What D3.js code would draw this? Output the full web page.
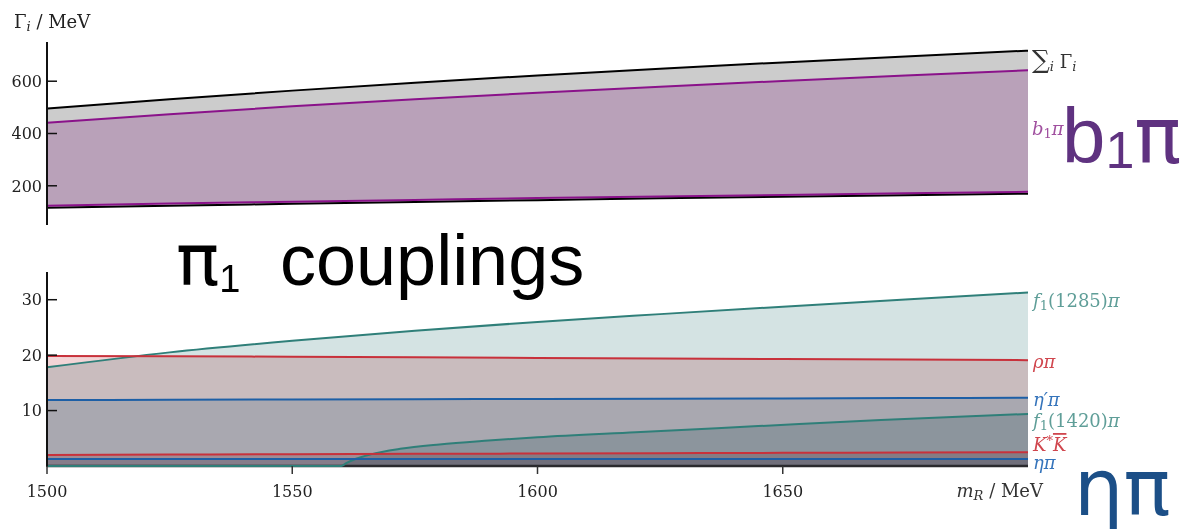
<!DOCTYPE html>
<html>
<head>
<meta charset="utf-8">
<script src="https://cdn.jsdelivr.net/npm/d3@7"></script>
<style>
  html, body { margin: 0; padding: 0; background: #fff; }
  svg { display: block; }
  .tick-label { font-family: "DejaVu Serif", serif; font-size: 16px; fill: #222; }
  .math { font-family: "DejaVu Serif", serif; font-size: 18px; }
  .big { font-family: "Liberation Sans", Arial, sans-serif; }
  .greek { font-family: "DejaVu Sans", sans-serif; }
  .band { mix-blend-mode: multiply; }
</style>
</head>
<body>
<svg id="chart" width="1190" height="529"></svg>
<script>
// Resonance mass grid (MeV)
const mass = [1500, 1525, 1550, 1575, 1600, 1625, 1650, 1675, 1700];

// Upper panel: total width and b1 pi partial width bands (MeV)
const sumUpper = [495, 531, 564, 594, 622, 648, 672, 695, 717];
const sumLower = [116, 124, 131, 138, 145, 152, 158, 164, 170];
const b1piUpper = [441, 474, 504, 531, 556, 579, 601, 622, 642];
const b1piLower = [124, 132, 139, 146, 153, 159, 165, 171, 177];

// Lower panel: partial widths of the remaining channels (MeV)
const f1_1285pi = [17.8, 20.5, 22.6, 24.4, 26.0, 27.4, 28.75, 30.05, 31.3];
const rhoPi = [19.85, 19.8, 19.7, 19.6, 19.5, 19.4, 19.3, 19.2, 19.1];
const etaPrimePi = [11.9, 11.95, 12.0, 12.05, 12.1, 12.15, 12.2, 12.25, 12.3];
const kstarK = [2.0, 2.06, 2.12, 2.19, 2.25, 2.31, 2.37, 2.44, 2.5];
const etaPi = [1.25, 1.25, 1.25, 1.25, 1.25, 1.25, 1.25, 1.25, 1.25];

// f1(1420) pi opens just above 1560 MeV, so it gets its own finer grid
const massF1420 = [1500, 1530, 1560, 1561, 1563, 1566, 1572, 1580, 1590, 1600, 1620, 1645, 1670, 1700];
const f1_1420pi = [0, 0, 0, 0.5, 1.3, 2.1, 3.1, 3.9, 4.6, 5.2, 6.1, 7.2, 8.3, 9.4];

// Axis ticks
const topTicks = [200, 400, 600];
const bottomTicks = [10, 20, 30];
const massTicks = [1500, 1550, 1600, 1650];

const svg = d3.select("#chart");

const x = d3.scaleLinear().domain([1500, 1700]).range([47, 1028]);
const yTop = d3.scaleLinear().domain([50, 750]).range([225, 42]);
const yBot = d3.scaleLinear().domain([0, 35]).range([466, 272]);

const zip = (ms, vs) => ms.map((m, i) => ({ m, v: vs[i] }));
const zip2 = (ms, lo, hi) => ms.map((m, i) => ({ m, lo: lo[i], hi: hi[i] }));

// ---------- upper panel ----------
const gTop = svg.append("g");
const bandArea = d3.area().curve(d3.curveMonotoneX)
  .x(d => x(d.m)).y0(d => yTop(d.lo)).y1(d => yTop(d.hi));
const lineTop = d3.line().curve(d3.curveMonotoneX).x(d => x(d.m)).y(d => yTop(d.v));

gTop.append("path").datum(zip2(mass, sumLower, sumUpper))
  .attr("d", bandArea).attr("fill", "#cccccc");
gTop.append("path").datum(zip2(mass, b1piLower, b1piUpper))
  .attr("class", "band").attr("d", bandArea).attr("fill", "#e7cae7");

[[sumUpper, "#000"], [sumLower, "#000"], [b1piUpper, "#8a128a"], [b1piLower, "#8a128a"]]
  .forEach(([vals, col]) => {
    gTop.append("path").datum(zip(mass, vals)).attr("d", lineTop)
      .attr("fill", "none").attr("stroke", col).attr("stroke-width", 2);
  });

// upper axis
gTop.append("line").attr("x1", 47).attr("x2", 47).attr("y1", 42).attr("y2", 225)
  .attr("stroke", "#111").attr("stroke-width", 2);
topTicks.forEach(t => {
  gTop.append("line").attr("x1", 47).attr("x2", 57).attr("y1", yTop(t)).attr("y2", yTop(t))
    .attr("stroke", "#111").attr("stroke-width", 1.5);
  gTop.append("text").attr("class", "tick-label").attr("x", 42).attr("y", yTop(t))
    .attr("text-anchor", "end").attr("dy", "0.36em").text(t);
});

// ---------- lower panel ----------
const gBot = svg.append("g");
const area0 = d3.area().curve(d3.curveMonotoneX)
  .x(d => x(d.m)).y0(yBot(0)).y1(d => yBot(d.v));
const lineBot = d3.line().curve(d3.curveMonotoneX).x(d => x(d.m)).y(d => yBot(d.v));

const teal = "#2f7f79", red = "#c8313b", blue = "#1d5fa6";
const tealFill = "#d4e3e3", redFill = "#f2d4d6", blueFill = "#d6e4ed";

const channels = [
  { ms: mass, vals: f1_1285pi, line: teal, fill: tealFill },
  { ms: mass, vals: rhoPi, line: red, fill: redFill },
  { ms: mass, vals: etaPrimePi, line: blue, fill: blueFill },
  { ms: massF1420, vals: f1_1420pi, line: teal, fill: tealFill },
  { ms: mass, vals: kstarK, line: red, fill: redFill },
  { ms: mass, vals: etaPi, line: blue, fill: blueFill }
];

channels.forEach(c => {
  gBot.append("path").datum(zip(c.ms, c.vals)).attr("class", "band")
    .attr("d", area0).attr("fill", c.fill);
});

// x axis baseline sits under the channel curves
gBot.append("line").attr("x1", 47).attr("x2", 1028).attr("y1", 466).attr("y2", 466)
  .attr("stroke", "#2a2a2e").attr("stroke-width", 2.5);

channels.forEach(c => {
  gBot.append("path").datum(zip(c.ms, c.vals)).attr("d", lineBot)
    .attr("fill", "none").attr("stroke", c.line).attr("stroke-width", 2);
});

// lower y axis
gBot.append("line").attr("x1", 47).attr("x2", 47).attr("y1", 272).attr("y2", 467)
  .attr("stroke", "#111").attr("stroke-width", 2);
bottomTicks.forEach(t => {
  gBot.append("line").attr("x1", 47).attr("x2", 57).attr("y1", yBot(t)).attr("y2", yBot(t))
    .attr("stroke", "#111").attr("stroke-width", 1.5);
  gBot.append("text").attr("class", "tick-label").attr("x", 42).attr("y", yBot(t))
    .attr("text-anchor", "end").attr("dy", "0.36em").text(t);
});
// mass axis ticks
massTicks.forEach(t => {
  gBot.append("line").attr("x1", x(t)).attr("x2", x(t)).attr("y1", 466).attr("y2", 474)
    .attr("stroke", "#333").attr("stroke-width", 1.5);
  gBot.append("text").attr("class", "tick-label").attr("x", x(t)).attr("y", 497)
    .attr("text-anchor", "middle").text(t);
});

// ---------- math-style labels ----------
// segments: [text, {italic, sub, sup, over, size}]
function mathText(parent, xPos, yPos, segs, color, anchor) {
  const t = parent.append("text").attr("class", "math").attr("x", xPos).attr("y", yPos)
    .attr("fill", color).attr("text-anchor", anchor || "start");
  segs.forEach(s => {
    const [str, o] = s;
    const opt = o || {};
    const ts = t.append("tspan").text(str);
    if (opt.italic) ts.attr("font-style", "italic");
    if (opt.sub) ts.attr("font-size", "13px").attr("baseline-shift", "-25%");
    if (opt.sup) ts.attr("font-size", "13px").attr("baseline-shift", "45%");
    if (opt.size) ts.attr("font-size", opt.size);
    if (opt.over) ts.style("text-decoration", "overline");
  });
  return t;
}

// axis titles
mathText(svg, 14, 28, [["Γ"], ["i", { italic: true, sub: true }], [" / MeV"]], "#222")
  .attr("font-size", "17px");
mathText(svg, 1043, 497, [["m", { italic: true }], ["R", { italic: true, sub: true }], [" / MeV"]], "#333", "end")
  .attr("font-size", "17px");

// channel labels at the right edge
mathText(svg, 1032, 68, [["∑", { size: "25px" }], ["i", { italic: true, sub: true }], ["  Γ"], ["i", { italic: true, sub: true }]], "#333");
mathText(svg, 1032, 135, [["b", { italic: true }], ["1", { sub: true }], ["π", { italic: true }]], "#a0509f");
mathText(svg, 1033, 307, [["f", { italic: true }], ["1", { sub: true }], ["(1285)"], ["π", { italic: true }]], "#5f9e98");
mathText(svg, 1033, 368, [["ρπ", { italic: true }]], "#d0464e");
mathText(svg, 1033, 406, [["η′π", { italic: true }]], "#3574bb");
mathText(svg, 1033, 427, [["f", { italic: true }], ["1", { sub: true }], ["(1420)"], ["π", { italic: true }]], "#5f9e98");
mathText(svg, 1033, 451, [["K", { italic: true }], ["*", { sup: true }], ["K", { italic: true, over: true }]], "#d0464e")
  .attr("font-size", "17px");
mathText(svg, 1033, 469, [["ηπ", { italic: true }]], "#3574bb");

// ---------- headline text ----------
const title = svg.append("text").attr("class", "big").attr("x", 176).attr("y", 285)
  .attr("font-size", "72px").attr("fill", "#000");
title.append("tspan").attr("class", "greek").text("π");
title.append("tspan").attr("font-size", "38px").attr("dy", "7").text("1");
title.append("tspan").attr("dy", "-7").attr("x", 280).text("couplings");

const b1 = svg.append("text").attr("class", "big").attr("x", 1062).attr("y", 163)
  .attr("font-size", "78px").attr("fill", "#5f3280");
b1.append("tspan").text("b");
b1.append("tspan").attr("font-size", "52px").attr("dy", "5").text("1");
b1.append("tspan").attr("class", "greek").attr("dy", "-5").text("π");

svg.append("text").attr("class", "big greek").attr("x", 1074).attr("y", 515)
  .attr("font-size", "78px").attr("fill", "#1c4f87").text("ηπ");
</script>
</body>
</html>
